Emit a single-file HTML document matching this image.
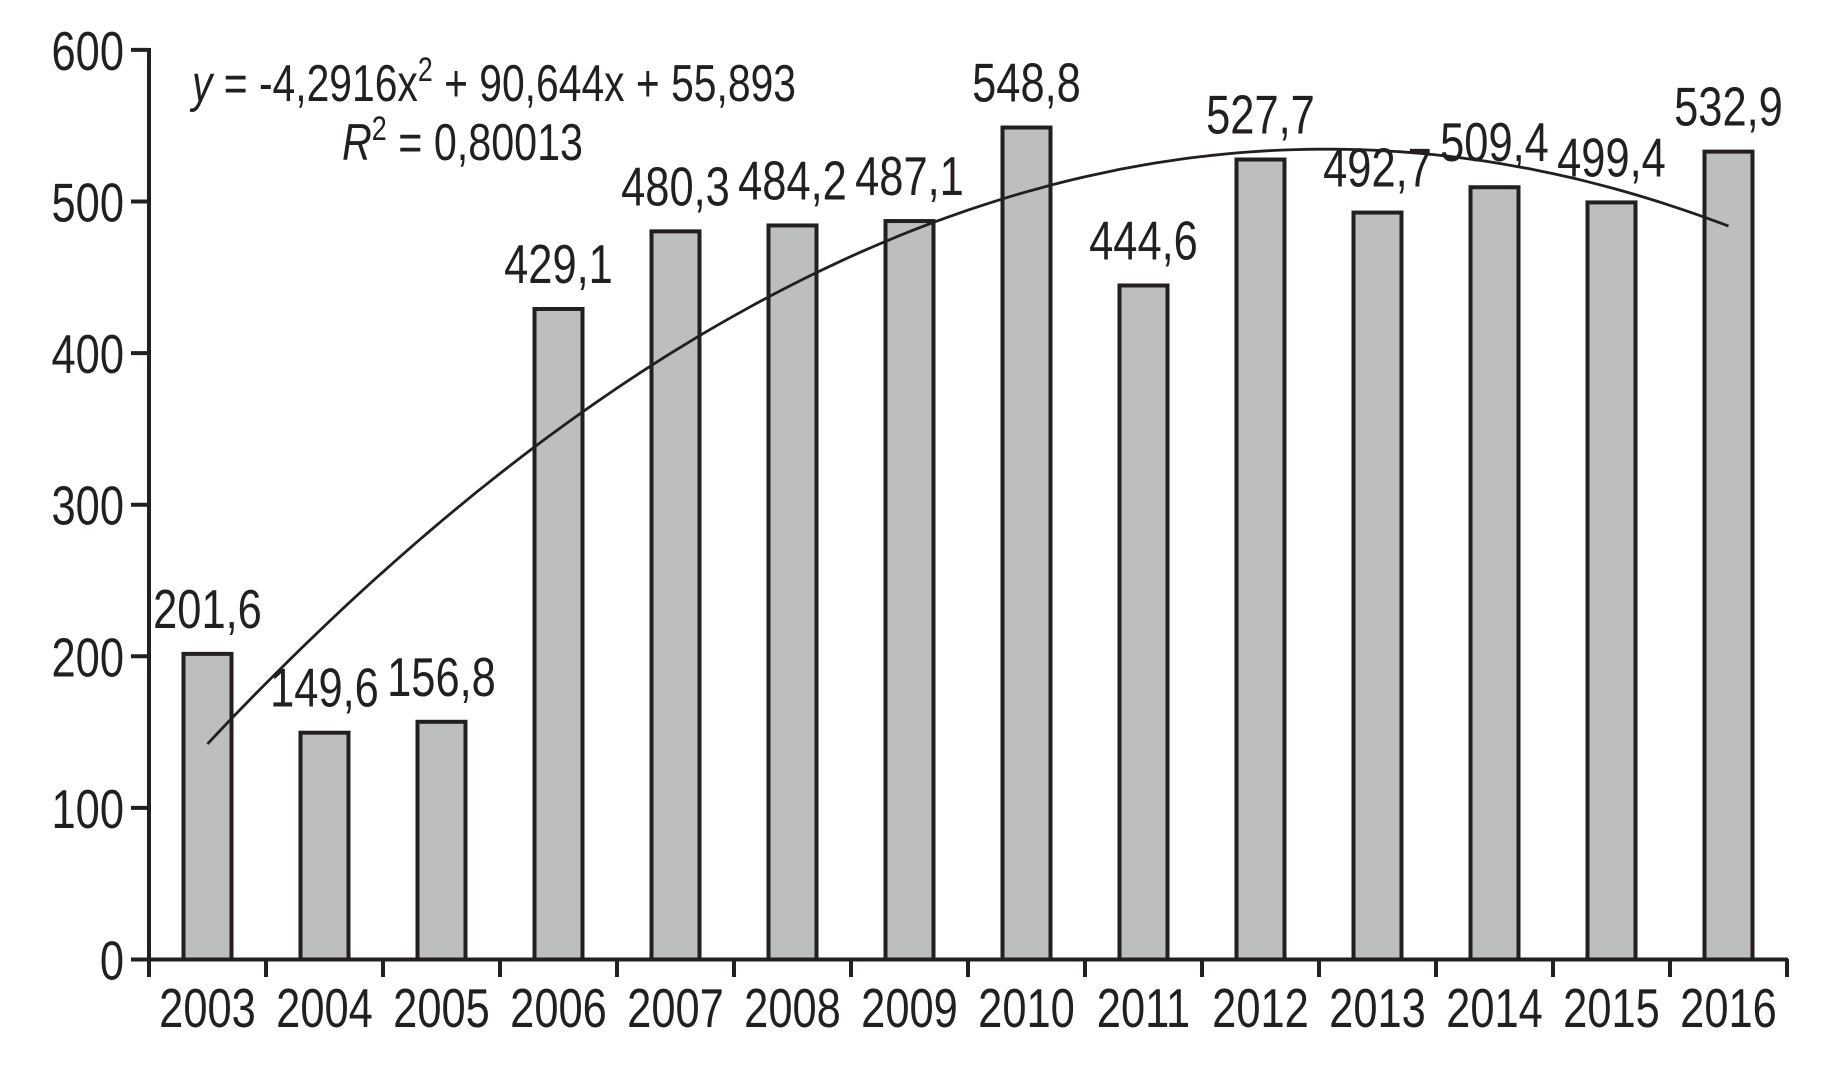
<!DOCTYPE html>
<html><head><meta charset="utf-8"><style>
html,body{margin:0;padding:0;background:#fff;}
svg{display:block;}
text{font-family:"Liberation Sans",sans-serif;fill:#231f20;}
</style></head><body>
<svg id="c" width="1828" height="1083" viewBox="0 0 1828 1083" xmlns="http://www.w3.org/2000/svg">
<g id="bars"></g>
<g stroke="#231f20" stroke-width="4" fill="none">
<line x1="149" y1="48" x2="149" y2="961"/>
<line x1="131" y1="959.5" x2="1788" y2="959.5"/>
<g id="ticks"></g>
</g>
<g id="labels" font-size="55"></g>
<path id="curve" fill="none" stroke="#231f20" stroke-width="2.8"/>
<text x="192" y="101" font-size="52" textLength="604" lengthAdjust="spacingAndGlyphs"><tspan font-style="italic">y</tspan> = -4,2916x<tspan dy="-20" font-size="34">2</tspan><tspan dy="20"> + 90,644x + 55,893</tspan></text>
<text x="342" y="160" font-size="52" textLength="241" lengthAdjust="spacingAndGlyphs"><tspan font-style="italic">R</tspan><tspan dy="-20" font-size="34">2</tspan><tspan dy="20"> = 0,80013</tspan></text>
</svg>
<script>
var vals=[201.6,149.6,156.8,429.1,480.3,484.2,487.1,548.8,444.6,527.7,492.7,509.4,499.4,532.9];
var x0=149,cw=117.0,y0=959.5,k=151.6/100,ns="http://www.w3.org/2000/svg";
function el(t,a,p,txt){var e=document.createElementNS(ns,t);for(var i in a)e.setAttribute(i,a[i]);if(txt!=null)e.textContent=txt;document.getElementById(p).appendChild(e);}
function lab(x,y,anchor,s){el("text",{x:0,y:0,"text-anchor":anchor,transform:"translate("+x+","+y+") scale(0.79,1)"},"labels",s);}
for(var i=0;i<14;i++){var c=x0+cw*(i+0.5),h=vals[i]*k;
el("rect",{x:c-24,y:y0-h,width:48,height:h,fill:"#bdbec0",stroke:"#231f20","stroke-width":4},"bars");
lab(c,y0-h-26,"middle",vals[i].toFixed(1).replace(".",","));
lab(c,1027,"middle",String(2003+i));}
for(var i=0;i<=14;i++){el("line",{x1:x0+cw*i,y1:959,x2:x0+cw*i,y2:977},"ticks");}
for(var v=0;v<=600;v+=100){var y=y0-v*k;el("line",{x1:131,y1:y,x2:149,y2:y},"ticks");
lab(124,y+20,"end",String(v));}
var d="";for(var t=1;t<=14.001;t+=0.1){var yy=-4.2916*t*t+90.644*t+55.893;d+=(d?"L":"M")+(x0+cw*(t-0.5)).toFixed(1)+","+(y0-yy*k).toFixed(1);}
document.getElementById("curve").setAttribute("d",d);
</script>
</body></html>
